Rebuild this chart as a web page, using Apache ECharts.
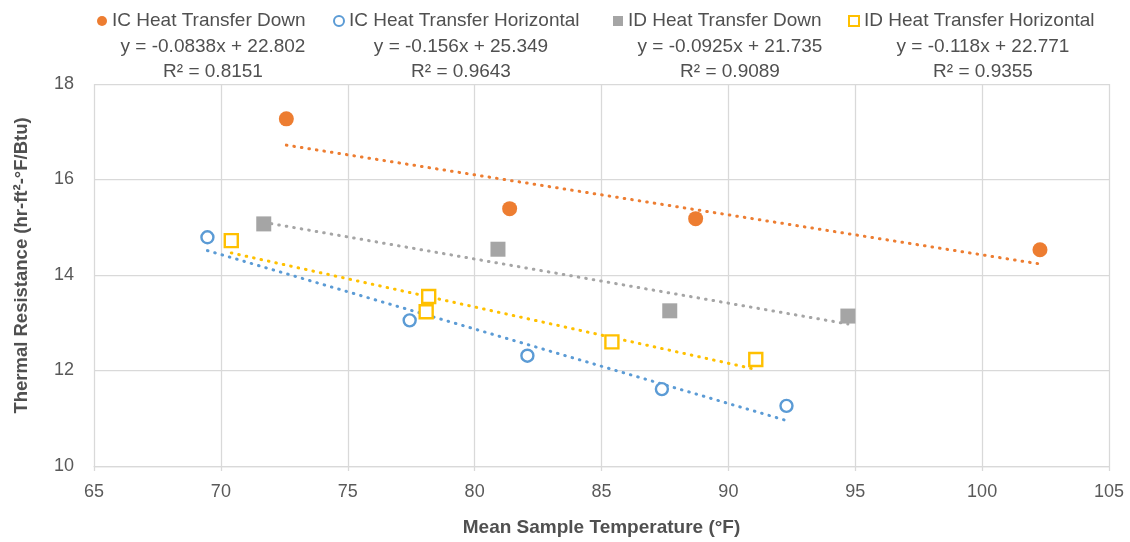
<!DOCTYPE html>
<html>
<head>
<meta charset="utf-8">
<script src="https://cdn.jsdelivr.net/npm/echarts@6/dist/echarts.min.js"></script>
<style>html,body{margin:0;padding:0;background:#fff}#c{width:1130px;height:542px}</style>
</head>
<body>
<div id="c"></div>
<script>
// ---- data ----
const seriesNames = ['IC Heat Transfer Down', 'IC Heat Transfer Horizontal', 'ID Heat Transfer Down', 'ID Heat Transfer Horizontal'];
const icDownX = [72.58, 81.38, 88.71, 102.28];
const icDownY = [17.27, 15.39, 15.18, 14.53];
const icHorX = [69.47, 77.44, 82.08, 87.38, 92.29];
const icHorY = [14.79, 13.05, 12.31, 11.61, 11.26];
const idDownX = [71.69, 80.92, 87.69, 94.71];
const idDownY = [15.07, 14.54, 13.25, 13.14];
const idHorX = [70.41, 78.19, 78.09, 85.41, 91.08];
const idHorY = [14.72, 13.55, 13.23, 12.60, 12.23];
const trendSlopes = [-0.0838, -0.156, -0.0925, -0.118];
const trendIntercepts = [22.802, 25.349, 21.735, 22.771];
const eqLabels = ['y = -0.0838x + 22.802', 'y = -0.156x + 25.349', 'y = -0.0925x + 21.735', 'y = -0.118x + 22.771'];
const r2Labels = ['R² = 0.8151', 'R² = 0.9643', 'R² = 0.9089', 'R² = 0.9355'];
const xAxisRange = [65, 105, 5];
const yAxisRange = [10, 18, 2];
const xTitle = 'Mean Sample Temperature (°F)';
const yTitle = 'Thermal Resistance (hr-ft²-°F/Btu)';

// ---- styles ----
const FONT = '"Liberation Sans", Arial, sans-serif';
const colors = ['#ED7D31', '#5B9BD5', '#A5A5A5', '#FFC000'];
const xs = [icDownX, icHorX, idDownX, idHorX];
const ys = [icDownY, icHorY, idDownY, idHorY];
const symbolStyles = [
  {symbol: 'circle', size: 15, item: {color: colors[0], opacity: 1}},
  {symbol: 'circle', size: 12, item: {color: '#ffffff', borderColor: colors[1], borderWidth: 2.4, opacity: 1}},
  {symbol: 'rect', size: 15, item: {color: colors[2], opacity: 1}},
  {symbol: 'rect', size: 13, item: {color: '#ffffff', borderColor: colors[3], borderWidth: 2.4, opacity: 1}}
];
const legendIcons = [
  {icon: 'circle', itemStyle: {color: colors[0]}},
  {icon: 'circle', itemStyle: {color: '#ffffff', borderColor: colors[1], borderWidth: 2}},
  {icon: 'rect', itemStyle: {color: colors[2]}},
  {icon: 'rect', itemStyle: {color: '#ffffff', borderColor: colors[3], borderWidth: 2}}
];
const legendLeft = [97, 333, 613, 848];
const eqCenters = [213, 461, 730, 983];

const series = [];
seriesNames.forEach((name, i) => {
  const pts = xs[i].map((x, k) => [x, ys[i][k]]);
  const xmin = Math.min(...xs[i]), xmax = Math.max(...xs[i]);
  series.push({
    name: name + ' trend', type: 'line', z: 2, silent: true,
    showSymbol: false, symbol: 'none',
    data: [[xmin, trendSlopes[i] * xmin + trendIntercepts[i]], [xmax, trendSlopes[i] * xmax + trendIntercepts[i]]],
    lineStyle: {color: colors[i], width: 3, type: [0.6, 7], cap: 'round', opacity: 1}
  });
  series.push({
    name: name, type: 'scatter', z: 5,
    symbol: symbolStyles[i].symbol, symbolSize: symbolStyles[i].size,
    itemStyle: symbolStyles[i].item,
    data: pts
  });
});

const legends = seriesNames.map((name, i) => ({
  data: [Object.assign({name: name}, legendIcons[i])],
  left: legendLeft[i], top: 10, padding: 0,
  itemWidth: 10, itemHeight: 10, itemGap: 0,
  textStyle: {fontFamily: FONT, fontSize: 19, color: '#505050', lineHeight: 22}
}));

const graphics = [];
seriesNames.forEach((n, i) => {
  graphics.push({type: 'text', x: eqCenters[i], y: 47,
    style: {text: eqLabels[i], font: '19px ' + FONT, fill: '#505050', textAlign: 'center', textVerticalAlign: 'middle'}});
  graphics.push({type: 'text', x: eqCenters[i], y: 72,
    style: {text: r2Labels[i], font: '19px ' + FONT, fill: '#505050', textAlign: 'center', textVerticalAlign: 'middle'}});
});
graphics.push({type: 'text', x: 22, y: 265.5, rotation: Math.PI / 2,
  style: {text: yTitle, font: 'bold 18.5px ' + FONT, fill: '#505050', textAlign: 'center', textVerticalAlign: 'middle'}});

const chart = echarts.init(document.getElementById('c'), null, {renderer: 'canvas'});
chart.setOption({
  animation: false,
  backgroundColor: '#ffffff',
  grid: {left: 94, right: 21, top: 84, bottom: 75, containLabel: false},
  legend: legends,
  xAxis: {
    type: 'value', min: xAxisRange[0], max: xAxisRange[1], interval: xAxisRange[2],
    name: xTitle, nameLocation: 'middle', nameGap: 52,
    nameTextStyle: {fontFamily: FONT, fontSize: 19, fontWeight: 'bold', color: '#505050'},
    axisLine: {show: true, lineStyle: {color: '#D9D9D9', width: 1.25}},
    axisTick: {show: true, length: 5, lineStyle: {color: '#D9D9D9', width: 1.25}},
    axisLabel: {fontFamily: FONT, fontSize: 18, color: '#595959', margin: 17},
    splitLine: {show: true, lineStyle: {color: '#D9D9D9', width: 1.25}}
  },
  yAxis: {
    type: 'value', min: yAxisRange[0], max: yAxisRange[1], interval: yAxisRange[2],
    axisLine: {show: false}, axisTick: {show: false},
    axisLabel: {fontFamily: FONT, fontSize: 18, color: '#595959', margin: 20},
    splitLine: {show: true, lineStyle: {color: '#D9D9D9', width: 1.25}}
  },
  graphic: graphics,
  series: series
});
</script>
</body>
</html>
